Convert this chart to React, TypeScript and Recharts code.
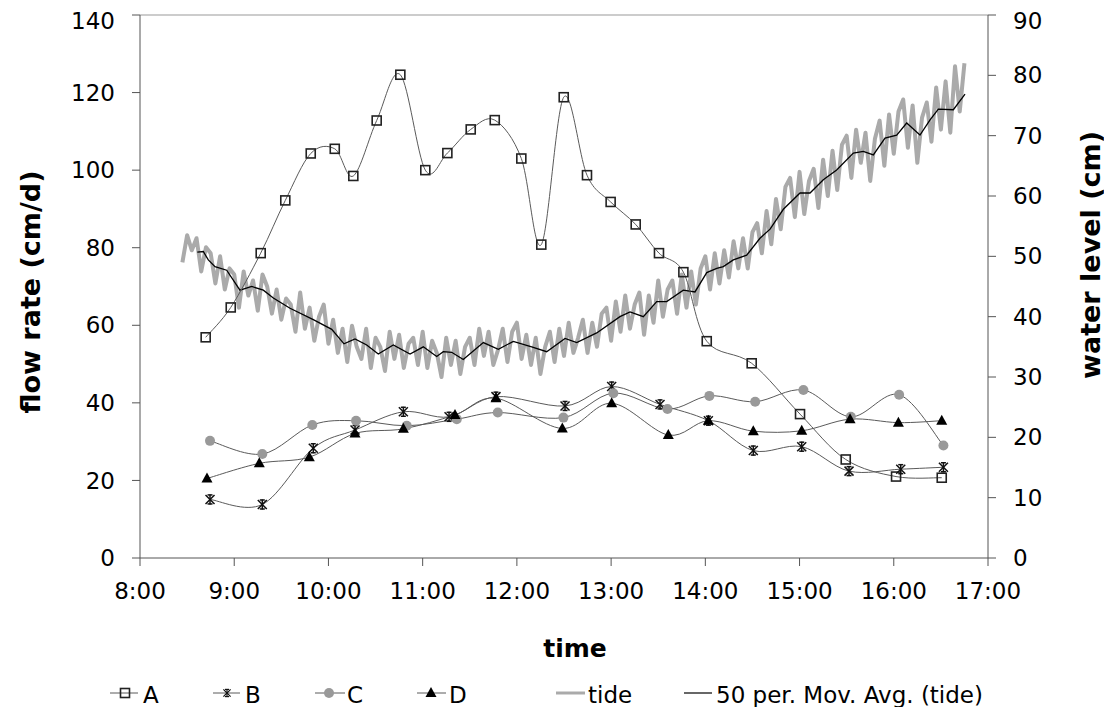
import React from 'react';
import { LineChart, Line, XAxis, YAxis, ReferenceLine } from 'recharts';

// Flow rate series (cm/d), time in decimal hours
const aTimes = [8.697, 8.963, 9.281, 9.542, 9.812, 10.067, 10.264, 10.512, 10.763, 11.028, 11.262, 11.51, 11.765, 12.047, 12.259, 12.497, 12.744, 12.995, 13.261, 13.508, 13.767, 14.015, 14.492, 15.005, 15.49, 16.024, 16.509];
const aFlow = [56.9, 64.6, 78.6, 92.2, 104.3, 105.5, 98.5, 112.8, 124.6, 100.0, 104.4, 110.5, 112.9, 103.0, 80.8, 118.8, 98.7, 91.8, 86.0, 78.6, 73.7, 55.9, 50.2, 37.1, 25.4, 21.0, 20.7];

const bTimes = [8.743, 9.298, 9.839, 10.282, 10.795, 11.28, 11.778, 12.511, 13.006, 13.519, 14.032, 14.509, 15.023, 15.525, 16.074, 16.527];
const bFlow = [15.1, 13.8, 28.3, 33.0, 37.7, 36.4, 41.6, 39.2, 44.2, 39.6, 35.4, 27.7, 28.7, 22.4, 22.9, 23.4];

const cTimes = [8.743, 9.298, 9.829, 10.293, 10.831, 11.362, 11.797, 12.494, 13.024, 13.598, 14.043, 14.529, 15.041, 15.544, 16.057, 16.527];
const cFlow = [30.2, 26.8, 34.3, 35.4, 34.1, 35.8, 37.5, 36.2, 42.5, 38.4, 41.8, 40.3, 43.3, 36.4, 42.1, 29.0];

const dTimes = [8.711, 9.266, 9.797, 10.282, 10.795, 11.343, 11.778, 12.482, 13.006, 13.607, 14.032, 14.509, 15.023, 15.536, 16.049, 16.509];
const dFlow = [20.5, 24.4, 26.0, 32.1, 33.3, 36.9, 41.2, 33.4, 39.9, 31.7, 35.4, 32.7, 32.8, 35.8, 34.9, 35.4];

// Tide water level (cm), one reading every 3 minutes from 8:27
const tideStart = 8.45;
const tideStepMin = 3;
const tideLevel = [
  49, 53.5, 51, 53, 47.5, 51.5, 50.5, 45.5, 50, 44.5, 48, 47, 41.5, 47.5, 43.5, 46, 41, 47, 45, 40.5,
  44.5, 39.5, 43, 42, 37.5, 44, 38, 41.5, 36, 40, 42, 35.5, 39.5, 34, 38, 32.5, 38.5, 35, 33, 38,
  31.5, 36.5, 35, 31, 37.5, 33, 37, 31.5, 35.5, 36.5, 32, 37.5, 31.5, 36, 34, 30, 36.5, 32, 36, 30.5,
  35, 36.5, 32, 38, 33.5, 37.5, 32, 34.5, 38, 32.5, 37.5, 39, 33, 37, 32, 36.5, 30.5, 35, 37.5, 32.5,
  38, 33.5, 39, 34, 36.5, 39.5, 34, 39, 35, 40.5, 41.5, 36, 42.5, 37.5, 43.5, 38, 42, 44, 37, 43.5,
  39, 46, 40, 44.5, 46, 40.5, 47, 41.5, 47.5, 42, 48, 50, 44.5, 50.5, 45.5, 51, 46.5, 52.5, 48, 53,
  48, 54, 55.5, 50.5, 57.5, 52, 59.5, 54.5, 61.5, 63, 56.5, 64, 57, 62.5, 64.5, 58, 66, 60, 67.5, 61,
  68.5, 70, 63, 71, 65.5, 70.5, 62.5, 69.5, 72.5, 65, 73.5, 67, 74, 76, 68, 75, 65.5, 73, 75.5, 69,
  78, 71, 79, 70.5, 81.5, 74, 82,
];

// 50 period moving average of the tide
const maTimes = [8.608, 8.672, 8.725, 8.796, 8.92, 9.061, 9.186, 9.309, 9.415, 9.592, 9.839, 10.035, 10.165, 10.282, 10.406, 10.529, 10.688, 10.866, 11.007, 11.149, 11.219, 11.308, 11.431, 11.644, 11.803, 11.962, 12.157, 12.316, 12.511, 12.635, 12.847, 13.094, 13.201, 13.342, 13.484, 13.59, 13.766, 13.89, 14.015, 14.121, 14.191, 14.297, 14.439, 14.58, 14.687, 14.828, 15.005, 15.111, 15.252, 15.394, 15.571, 15.677, 15.783, 15.907, 16.031, 16.137, 16.278, 16.385, 16.473, 16.632, 16.756];
const maLevel = [50.7, 50.8, 49.4, 48.3, 47.7, 44.4, 45.0, 44.4, 43.1, 41.4, 39.5, 37.9, 35.5, 36.3, 35.3, 33.8, 35.3, 33.8, 35.0, 33.4, 34.2, 34.1, 32.9, 35.7, 34.6, 35.9, 35.0, 34.2, 36.4, 35.7, 37.3, 40.0, 40.8, 40.0, 42.5, 42.5, 44.4, 44.1, 47.3, 48.0, 48.3, 49.4, 50.2, 53.0, 54.5, 57.8, 60.5, 60.5, 62.7, 64.3, 67.1, 67.4, 66.8, 69.6, 70.1, 72.1, 70.1, 72.6, 74.4, 74.3, 76.9];

const hourTicks = [8, 9, 10, 11, 12, 13, 14, 15, 16, 17];
const flowTicks = [0, 20, 40, 60, 80, 100, 120, 140];
const levelTicks = [0, 10, 20, 30, 40, 50, 60, 70, 80, 90];

const pair = (ts: number[], vs: number[]) => ts.map((t, i) => ({ t, v: vs[i] }));
const seriesA = pair(aTimes, aFlow);
const seriesB = pair(bTimes, bFlow);
const seriesC = pair(cTimes, cFlow);
const seriesD = pair(dTimes, dFlow);
const tideData = tideLevel.map((v, i) => ({ t: tideStart + (i * tideStepMin) / 60, v }));
const maData = pair(maTimes, maLevel);

const FONT = '"DejaVu Sans", Verdana, sans-serif';
const LINE_GREY = '#5a5a5a';
const AXIS = '#555';

// Excel-like smoothed line (Catmull-Rom through every point)
const smooth = (context: any) => {
  let pts: number[][] = [];
  return {
    areaStart() {},
    areaEnd() {},
    lineStart() {
      pts = [];
    },
    point(x: number, y: number) {
      pts.push([+x, +y]);
    },
    lineEnd() {
      const n = pts.length;
      if (!n) return;
      context.moveTo(pts[0][0], pts[0][1]);
      for (let i = 0; i < n - 1; i++) {
        const p0 = pts[i === 0 ? 0 : i - 1];
        const p1 = pts[i];
        const p2 = pts[i + 1];
        const p3 = pts[i + 2 < n ? i + 2 : n - 1];
        context.bezierCurveTo(
          p1[0] + (p2[0] - p0[0]) / 6,
          p1[1] + (p2[1] - p0[1]) / 6,
          p2[0] - (p3[0] - p1[0]) / 6,
          p2[1] - (p3[1] - p1[1]) / 6,
          p2[0],
          p2[1]
        );
      }
    },
  };
};

function SquareMark({ x, y }: { x: number; y: number }) {
  return <rect x={x - 4.5} y={y - 4.5} width={9} height={9} fill="none" stroke="#222" strokeWidth={1.6} />;
}
function StarMark({ x, y }: { x: number; y: number }) {
  const s = 4.5;
  return (
    <g stroke="#111" strokeWidth={1.5}>
      <line x1={x - s} y1={y - s} x2={x + s} y2={y + s} />
      <line x1={x - s} y1={y + s} x2={x + s} y2={y - s} />
      <line x1={x} y1={y - s - 0.5} x2={x} y2={y + s + 0.5} />
      <line x1={x - 2.5} y1={y - s} x2={x + 2.5} y2={y - s} />
      <line x1={x - 2.5} y1={y + s} x2={x + 2.5} y2={y + s} />
    </g>
  );
}
function CircleMark({ x, y }: { x: number; y: number }) {
  return <circle cx={x} cy={y} r={5} fill="#999" />;
}
function TriangleMark({ x, y }: { x: number; y: number }) {
  return <path d={`M${x},${y - 6} L${x + 5.5},${y + 4} L${x - 5.5},${y + 4} Z`} fill="#000" />;
}

const dotOf = (Mark: any, tag: string) => (p: any) => (
  <g key={`${tag}-${p.index}`}>
    <Mark x={p.cx} y={p.cy} />
  </g>
);

const tickStyle = { fill: '#000', fontSize: 23, fontFamily: FONT };

function Legend() {
  const y = 685;
  const ty = 695;
  const txt = { fontSize: 23, fontFamily: FONT, fill: '#000' } as const;
  return (
    <svg width={1104} height={699} style={{ position: 'absolute', left: 0, top: 0, pointerEvents: 'none' }}>
      <line x1={102} x2={130} y1={y} y2={y} stroke={LINE_GREY} />
      <SquareMark x={117} y={y} />
      <text x={135} y={ty} {...txt}>A</text>
      <line x1={205} x2={232} y1={y} y2={y} stroke={LINE_GREY} />
      <g transform={`translate(219 ${y}) scale(0.8) translate(-219 ${-y})`}>
        <StarMark x={219} y={y} />
      </g>
      <text x={237} y={ty} {...txt}>B</text>
      <line x1={307} x2={337} y1={y} y2={y} stroke={LINE_GREY} />
      <CircleMark x={321} y={y} />
      <text x={339} y={ty} {...txt}>C</text>
      <line x1={409} x2={438} y1={y} y2={y} stroke={LINE_GREY} />
      <TriangleMark x={423} y={y} />
      <text x={441} y={ty} {...txt}>D</text>
      <line x1={548} x2={577} y1={y} y2={y} stroke="#aaa" strokeWidth={3} />
      <text x={580} y={ty} {...txt}>tide</text>
      <line x1={676} x2={704} y1={y} y2={y} stroke="#000" strokeWidth={1.2} />
      <text x={708} y={ty} {...txt}>50 per. Mov. Avg. (tide)</text>
    </svg>
  );
}

export default function App() {
  return (
    <div style={{ position: 'relative', width: 1104, height: 699, background: '#fff' }}>
      <LineChart width={1104} height={699} margin={{ top: 7, right: 0, left: 0, bottom: 99 }}>
        <XAxis
          type="number"
          dataKey="t"
          domain={[8, 17]}
          ticks={hourTicks}
          tickFormatter={(h: number) => `${h}:00`}
          allowDataOverflow
          height={50}
          stroke={AXIS}
          tickSize={8}
          tickMargin={17}
          tick={tickStyle}
          label={{
            content: () => (
              <text x={567} y={640} textAnchor="middle" dominantBaseline="central" fontSize={25} fontWeight="bold" fontFamily={FONT} fill="#000">
                time
              </text>
            ),
          }}
        />
        <YAxis
          yAxisId="left"
          type="number"
          domain={[0, 140]}
          ticks={flowTicks}
          width={132}
          stroke={AXIS}
          tickSize={8}
          tickMargin={17}
          tick={tickStyle}
          label={{
            content: () => (
              <text x={22} y={284} transform="rotate(-90 22 284)" textAnchor="middle" dominantBaseline="central" fontSize={27} fontWeight="bold" fontFamily={FONT} fill="#000">
                flow rate (cm/d)
              </text>
            ),
          }}
        />
        <YAxis
          yAxisId="right"
          orientation="right"
          type="number"
          domain={[0, 90]}
          ticks={levelTicks}
          width={124}
          stroke={AXIS}
          tickSize={8}
          tickMargin={17}
          tick={tickStyle}
          label={{
            content: () => (
              <text x={1082} y={247} transform="rotate(-90 1082 247)" textAnchor="middle" dominantBaseline="central" fontSize={27} fontWeight="bold" fontFamily={FONT} fill="#000">
                water level (cm)
              </text>
            ),
          }}
        />
        <ReferenceLine yAxisId="left" y={140} stroke="#999" strokeWidth={1} />
        <Line
          yAxisId="right"
          data={tideData}
          dataKey="v"
          type="linear"
          stroke="#aaa"
          strokeWidth={4}
          strokeLinejoin="round"
          dot={false}
          activeDot={false}
          isAnimationActive={false}
        />
        <Line
          yAxisId="right"
          data={maData}
          dataKey="v"
          type="linear"
          stroke="#000"
          strokeWidth={1.3}
          dot={false}
          activeDot={false}
          isAnimationActive={false}
        />
        <Line
          yAxisId="left"
          data={seriesA}
          dataKey="v"
          type={smooth as any}
          stroke={LINE_GREY}
          strokeWidth={1}
          dot={dotOf(SquareMark, 'a')}
          activeDot={false}
          isAnimationActive={false}
        />
        <Line
          yAxisId="left"
          data={seriesB}
          dataKey="v"
          type={smooth as any}
          stroke={LINE_GREY}
          strokeWidth={1}
          dot={dotOf(StarMark, 'b')}
          activeDot={false}
          isAnimationActive={false}
        />
        <Line
          yAxisId="left"
          data={seriesC}
          dataKey="v"
          type={smooth as any}
          stroke={LINE_GREY}
          strokeWidth={1}
          dot={dotOf(CircleMark, 'c')}
          activeDot={false}
          isAnimationActive={false}
        />
        <Line
          yAxisId="left"
          data={seriesD}
          dataKey="v"
          type={smooth as any}
          stroke={LINE_GREY}
          strokeWidth={1}
          dot={dotOf(TriangleMark, 'd')}
          activeDot={false}
          isAnimationActive={false}
        />
      </LineChart>
      <Legend />
    </div>
  );
}
